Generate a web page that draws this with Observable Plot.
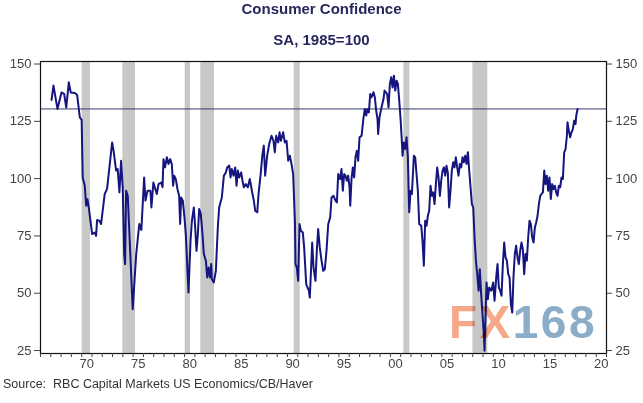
<!DOCTYPE html>
<html><head><meta charset="utf-8">
<script src="https://cdn.jsdelivr.net/npm/d3@7"></script>
<script src="https://cdn.jsdelivr.net/npm/@observablehq/plot@0.6"></script>
<style>
body{margin:0;background:#fff;font-family:"Liberation Sans",Arial,sans-serif;}
#wrap{position:relative;width:643px;height:403px;overflow:hidden;background:#fff;}
.title{position:absolute;left:0;width:643px;text-align:center;font-weight:bold;color:#27275e;}
#t1{top:0px;font-size:15px;line-height:18px;}
#t2{top:31px;font-size:15px;line-height:18px;}
#chart{position:absolute;left:0;top:52px;}
#src{position:absolute;left:3px;top:376px;font-size:12.5px;line-height:16px;color:#333;white-space:pre;}
#wm{position:absolute;left:449px;top:299px;font-size:46px;line-height:46px;font-weight:bold;letter-spacing:2.5px;mix-blend-mode:multiply;white-space:nowrap;}
</style></head>
<body>
<div id="wrap">
  <div class="title" id="t1">Consumer Confidence</div>
  <div class="title" id="t2">SA, 1985=100</div>
  <div id="chart"></div>
  <div id="src">Source:  RBC Capital Markets US Economics/CB/Haver</div>
  <div id="wm"><span style="color:#f6a988">FX</span><span style="color:#8badc8">168</span></div>
</div>
<script>
// Decimal year of each observation
const years = [
1967.07,1967.26,1967.65,1968.04,1968.3,1968.5,1968.75,1968.94,1969.33,1969.56,1969.82,1970.0,1970.1,1970.3,1970.44,1970.56,1970.69,1971.02,1971.27,1971.4,1971.5,1971.73,1971.89,1972.24,1972.47,1972.96,1973.1,1973.35,1973.5,1973.67,1973.83,1973.99,1974.13,1974.22,1974.32,1974.48,1974.96,1975.3,1975.6,1975.8,1976.07,1976.2,1976.4,1976.68,1976.78,1976.97,1977.3,
1977.47,1977.73,1977.86,1977.95,1978.1,1978.28,1978.44,1978.6,1978.76,1978.89,1978.99,1979.15,1979.31,1979.47,1979.57,1979.67,1979.83,1979.99,1980.12,1980.38,1980.58,1980.71,1980.9,1981.03,1981.16,1981.29,1981.42,1981.58,1981.74,1981.87,1982.07,1982.2,1982.33,1982.46,1982.59,1982.65,1982.84,1983.04,1983.23,1983.36,1983.62,1983.82,1984.01,1984.14,1984.34,1984.47,1984.59,1984.76,1984.92,1985.05,1985.18,1985.31,1985.5,1985.63,1985.76,1985.95,1986.15,1986.34,1986.54,1986.73,1986.86,1987.06,1987.19,1987.38,1987.57,1987.7,1987.83,1988.03,1988.22,
1988.45,1988.64,1988.77,1988.9,1989.1,1989.23,1989.36,1989.58,1989.74,1989.91,1990.07,1990.23,1990.39,1990.55,1990.72,1990.78,1990.91,1991.04,1991.17,1991.3,1991.49,1991.62,1991.82,1991.95,1992.08,1992.17,1992.27,1992.4,1992.53,1992.72,1992.85,1992.98,1993.14,1993.31,1993.47,1993.63,1993.79,1993.96,1994.15,1994.28,1994.47,1994.67,1994.8,1994.93,1995.12,1995.25,1995.38,1995.51,1995.64,1995.77,1995.9,1996.03,1996.1,1996.22,1996.35,1996.48,1996.61,1996.74,1996.87,1997.0,1997.2,1997.39,1997.52,1997.65,1997.78,1997.91,1998.04,1998.17,1998.36,1998.49,1998.62,1998.75,1998.81,1998.94,1999.14,1999.33,
1999.43,1999.69,1999.82,1999.95,2000.08,2000.21,2000.34,2000.47,2000.6,2000.73,2000.86,2000.99,2001.11,2001.18,2001.31,2001.44,2001.57,2001.7,2001.76,2001.83,2001.96,2002.09,2002.28,2002.41,2002.54,2002.67,2002.8,2003.0,2003.12,2003.25,2003.38,2003.51,2003.64,2003.77,2003.9,2004.03,2004.16,2004.29,2004.42,2004.55,2004.68,2004.81,2004.94,2005.07,2005.2,2005.33,2005.45,2005.58,2005.71,2005.84,2005.97,2006.1,2006.23,2006.36,2006.49,2006.62,2006.75,2006.88,2007.01,2007.14,2007.27,2007.4,2007.53,2007.66,2007.79,2007.92,2008.05,2008.18,2008.31,2008.44,2008.57,2008.69,2008.82,2008.95,2009.08,2009.15,2009.21,2009.34,2009.47,2009.6,2009.8,2009.99,2010.12,2010.31,
2010.41,2010.54,2010.67,2010.8,2010.93,2011.06,2011.19,2011.32,2011.45,2011.58,2011.71,2011.84,2011.96,2012.09,2012.22,2012.35,2012.48,2012.61,2012.74,2012.87,2013.0,2013.13,2013.26,2013.39,2013.52,2013.65,2013.78,2013.91,2014.04,2014.17,2014.3,2014.43,2014.56,2014.69,2014.82,2014.95,2015.07,2015.2,2015.33,2015.46,2015.59,2015.72,2015.85,2015.98,2016.11,2016.24,2016.37,2016.5,2016.63,2016.76,2016.89,2017.02,2017.15,2017.21,2017.34,2017.47,2017.6,2017.73,2017.86,2017.99,2018.06,2018.19
];
// Consumer Confidence index (SA, 1985=100)
const confidence = [
134.3,140.6,130.4,137.6,137,131,142,137.6,137.4,136.5,126.7,125.6,100.5,96.9,88.2,91,87.4,75.8,76.5,75,81.9,81.6,80.2,93.3,95.5,115.8,112.2,103.5,104.2,94,107.8,96.2,67.1,62.7,94.7,92.5,43,67.1,80.2,77.6,100.5,90.4,94.7,94.7,87.4,98.3,93.3,
97.6,98.3,96.2,108.5,104.9,109.3,106.4,108.5,106.4,96.9,101.3,99.8,95.4,92.5,80.2,91.8,90.4,83.1,75.8,50.3,72.9,81.6,87.4,78.7,68.5,75.8,86.7,84.5,75.8,67.1,64.2,56.9,61.2,56.9,62.7,56.1,54.7,59.8,78.7,87.4,91.8,101.3,102.7,104.9,105.7,100.5,104.2,101.3,104.9,96.9,103.5,100.5,102.7,99.1,96.2,97.6,96.2,99.8,94.7,90.4,86,85.3,93.3,101.3,110.7,114.4,101.3,110,115.1,
118.7,116.5,111.5,118.7,115.8,120.2,116.5,120.2,115.8,116.5,107.8,110,106.4,102,81.6,62.7,61.2,55.4,80.2,77.3,76.5,70,54,52.5,51.1,48.1,58.3,72.1,61.2,55.4,68.5,78,70,64.2,59.8,60.5,68.5,80.2,83.1,91.8,92.5,90.4,89.6,102,99.8,104.2,94.7,102,101.3,99.1,101.3,96.2,88.2,99.8,104.9,100.5,109.3,112.2,107.8,118,118.7,126.7,130.4,127.5,130.4,128.9,136.9,135.5,137.7,135.5,129.6,126,119.5,126.7,131.1,134.7,
138.4,136.9,131.1,141.3,144.2,139.8,144.9,138.4,142.7,141.3,134,126,116.5,110,115.8,112.9,118,109.3,96.9,85.3,94.7,93.3,110,109.3,102,94.7,80.2,79.4,72.9,62,81.6,79.4,83.8,86,96.9,92.5,94,88.9,97.6,104.9,100.5,92.5,99.1,103.5,104.9,101.3,105.6,102.7,87.4,94.7,103.5,107.1,104.9,109.3,104.9,101.3,106.4,104.9,109.3,107.1,110,106.4,111.5,103.5,96.2,88.9,87.4,74.3,64.2,58.3,51.1,60.5,49.6,40.9,32.1,24.9,35,54.7,47.4,52.5,51.1,54.7,46.7,58.3,
62.7,52.5,51.1,48.9,62.7,72.1,65.6,64.2,58.3,56.9,45.2,41.6,56.9,67.1,70.7,65.6,62.7,68.5,72.1,69.2,58.3,67.1,64.2,74.3,81.6,80.2,74.3,72.1,78.7,80.9,83.8,88.9,92.5,93.3,94,103.5,97.6,101.3,94.7,100.5,91.1,97.6,95.4,96.9,94,92.5,96.9,96.2,100.5,99.8,111.5,112.9,118.7,124.6,120.9,118,120.2,121.6,125.3,123.8,127.5,130.4
];
// Recession periods (shaded)
const recessionStart = [1970.05, 1974.0, 1980.06, 1981.58, 1990.65, 2001.31, 2008.02];
const recessionEnd   = [1970.86, 1975.23, 1980.58, 1982.91, 1991.24, 2001.89, 2009.47];
// Latest level reference line
const latestLevel = [130.4];
// Axis ticks
const yTicks = [25, 50, 75, 100, 125, 150];
const labelYears = [1970, 1975, 1980, 1985, 1990, 1995, 2000, 2005, 2010, 2015, 2020];
const minorYears = d3.range(1966, 2022);

const data = years.map((y, i) => ({year: y, value: confidence[i]}));
const recessions = recessionStart.map((s, i) => ({start: s, end: recessionEnd[i]}));

const chart = Plot.plot({
  width: 643,
  height: 323,
  marginLeft: 40,
  marginRight: 37,
  marginTop: 9,
  marginBottom: 22,
  x: {domain: [1966, 2021]},
  y: {domain: [23.7, 151.1]},
  style: {fontFamily: '"Liberation Sans", Arial, sans-serif', fontSize: "13px", color: "#444", background: "transparent", overflow: "visible"},
  marks: [
    Plot.rect(recessions, {x1: "start", x2: "end", fill: "#c8c8c8"}),
    Plot.ruleY(latestLevel, {stroke: "#3a3a6e", strokeWidth: 1}),
    Plot.line(data, {x: "year", y: "value", stroke: "#15157f", strokeWidth: 2}),
    Plot.frame({stroke: "#111", strokeWidth: 1.2}),
    Plot.axisY({anchor: "left", ticks: yTicks, tickSize: 6, tickPadding: 3, label: null}),
    Plot.axisY({anchor: "right", ticks: yTicks, tickSize: 5, tickPadding: 4, label: null}),
    Plot.axisX({ticks: minorYears, tickSize: 4, tickFormat: () => "", label: null}),
    Plot.axisX({ticks: labelYears.map(y => y + 0.5), tickSize: 0, tickPadding: 5, label: null,
      tickFormat: d => String(Math.floor(d) % 100).padStart(2, "0")})
  ]
});
document.getElementById("chart").appendChild(chart);
</script>
</body></html>
